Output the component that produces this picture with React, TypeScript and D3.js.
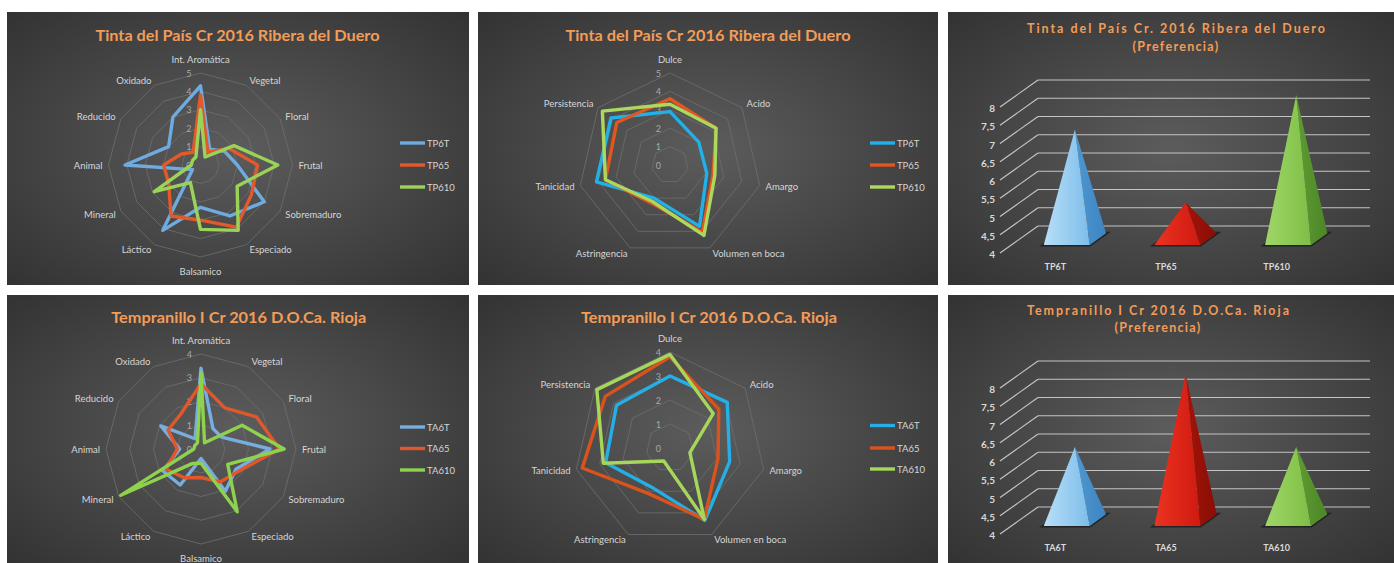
import React from "react";
import * as d3 from "d3";

// ---------- DATA ----------
const aromaAxes = ["Int. Aromática", "Vegetal", "Floral", "Frutal", "Sobremaduro", "Especiado", "Balsamico", "Láctico", "Mineral", "Animal", "Reducido", "Oxidado"];
const mouthAxes = ["Dulce", "Acido", "Amargo", "Volumen en boca", "Astringencia", "Tanicidad", "Persistencia"];

const tpNames = ["TP6T", "TP65", "TP610"];
const taNames = ["TA6T", "TA65", "TA610"];

// Tinta del País – aroma
const tpAroma6T = [4.3, 1.0, 1.5, 2.0, 4.0, 3.2, 2.3, 4.1, 0.5, 4.1, 2.0, 3.0];
const tpAroma65 = [3.8, 0.8, 1.8, 3.1, 3.2, 3.9, 3.0, 3.2, 2.0, 2.0, 1.2, 0.8];
const tpAroma610 = [3.0, 0.5, 2.1, 4.2, 2.3, 4.1, 3.5, 1.1, 2.9, 0.5, 0.5, 0.5];

// Tinta del País – boca
const tpMouth6T = [2.9, 2.0, 2.05, 3.7, 2.0, 4.1, 4.1];
const tpMouth65 = [3.6, 3.2, 2.4, 4.05, 2.3, 3.6, 3.7];
const tpMouth610 = [3.3, 3.2, 2.5, 4.25, 2.2, 3.6, 4.7];

// Tempranillo – aroma
const taAroma6T = [3.4, 1.0, 1.0, 2.9, 1.7, 2.05, 0.4, 1.75, 1.85, 0.9, 1.95, 0.5];
const taAroma65 = [2.75, 2.0, 2.7, 3.3, 1.85, 1.6, 1.2, 1.4, 1.7, 1.0, 1.6, 1.7];
const taAroma610 = [3.2, 0.3, 2.0, 3.5, 1.3, 3.05, 0.6, 0.7, 3.9, 0.3, 0.3, 0.3];

// Tempranillo – boca
const taMouth6T = [3.0, 3.05, 2.55, 3.35, 1.8, 2.75, 2.85];
const taMouth65 = [3.8, 2.6, 2.05, 3.3, 2.1, 3.75, 3.45];
const taMouth610 = [3.9, 2.3, 0.85, 3.3, 0.6, 2.85, 3.9];

// Preferencia
const prefTP = [7.0, 5.0, 7.95];
const prefTA = [6.0, 8.0, 6.0];
const prefTicks = [4, 4.5, 5, 5.5, 6, 6.5, 7, 7.5, 8];
const prefTickLabels = ["4", "4,5", "5", "5,5", "6", "6,5", "7", "7,5", "8"];

const titleTP = "Tinta del País Cr 2016 Ribera del Duero";
const titleTPpref = "Tinta del País Cr. 2016 Ribera del Duero";
const titleTA = "Tempranillo I Cr 2016 D.O.Ca. Rioja";
const titleTApref = "Tempranillo  I Cr 2016 D.O.Ca. Rioja";
const prefSub = "(Preferencia)";

const FONT = "Lato, 'Open Sans', sans-serif";
const TITLE_COLOR = "#F39C58";

// ---------- RADAR ----------
type RadarProps = {
  cx: number; cy: number; R: number; max: number;
  axes: string[]; series: number[][]; names: string[]; colors: string[];
  legendX: number; legendYs: number[];
  title: string; titleX: number; titleY: number; titleW: number;
};

function Radar(p: RadarProps) {
  const n = p.axes.length;
  const r = d3.scaleLinear().domain([0, p.max]).range([0, p.R]);
  const ang = (i: number) => (2 * Math.PI * i) / n;
  const line = d3
    .lineRadial<number>()
    .angle((_, i) => ang(i))
    .radius((d) => r(d))
    .curve(d3.curveLinearClosed);
  const levels = d3.range(1, p.max + 1);
  return (
    <g>
      <text x={p.titleX} y={p.titleY} textAnchor="middle" dominantBaseline="central"
        fontFamily={FONT} fontWeight="bold" fontSize={15} fill={TITLE_COLOR}
        textLength={p.titleW} lengthAdjust="spacingAndGlyphs">{p.title}</text>
      <g transform={`translate(${p.cx},${p.cy})`}>
        {levels.map((l) => (
          <path key={l} d={line(p.axes.map(() => l)) || ""} fill="none" stroke="#6f6f6f" strokeWidth={0.8} />
        ))}
        {d3.range(0, p.max + 1).map((l) => (
          <text key={l} x={-9} y={-r(l)} textAnchor="end" dominantBaseline="central"
            fontFamily={FONT} fontSize={9} fill="#a8a8a8">{l}</text>
        ))}
        {p.series.map((s, k) => (
          <path key={k} d={line(s) || ""} fill="none" stroke={p.colors[k]} strokeWidth={3.4} strokeLinejoin="round" />
        ))}
        {p.axes.map((a, i) => {
          const sx = Math.sin(ang(i));
          const sy = -Math.cos(ang(i));
          const rr = p.R + 6;
          let x = rr * sx;
          let y = rr * sy;
          let anchor = "middle";
          if (sx > 0.15) anchor = "start";
          else if (sx < -0.15) anchor = "end";
          else y += sy * 8;
          return (
            <text key={a} x={x} y={y} textAnchor={anchor} dominantBaseline="central"
              fontFamily={FONT} fontSize={9.5} fill="#d6d6d6">{a}</text>
          );
        })}
      </g>
      {p.names.map((nm, k) => (
        <g key={nm}>
          <line x1={p.legendX} x2={p.legendX + 25} y1={p.legendYs[k]} y2={p.legendYs[k]} stroke={p.colors[k]} strokeWidth={3.4} />
          <text x={p.legendX + 27} y={p.legendYs[k]} dominantBaseline="central" fontFamily={FONT} fontSize={9.5} fill="#d6d6d6">{nm}</text>
        </g>
      ))}
    </g>
  );
}

// ---------- PYRAMID ----------
type PyrProps = {
  dy: number; cats: string[]; values: number[];
  title1: string; title2: string; titleX: number; titleY1: number; titleY2: number; titleW: number;
};
const pyrFills = ["blue", "red", "green"];

function Pyramids(p: PyrProps) {
  const x0 = 1000, x1 = 1332;
  const depthX = 38, depthY = -27;
  const y = d3.scaleLinear().domain([4, 8]).range([253 + p.dy, 107 + p.dy]);
  const band = d3.scaleBand<string>().domain(p.cats).range([x0, x1]);
  const proj = (x: number, v: number, f: number): [number, number] => [x + depthX * f, y(v) + depthY * f];
  const d1 = 0.3, d2 = 0.73, hw = 23;
  const pts = (a: [number, number][]) => a.map((q) => q.join(",")).join(" ");
  return (
    <g>
      <text x={p.titleX} y={p.titleY1} textAnchor="middle" dominantBaseline="central" fontFamily={FONT}
        fontWeight="bold" fontSize={12.5} fill={TITLE_COLOR} textLength={p.titleW} lengthAdjust="spacing">{p.title1}</text>
      <text x={p.titleX} y={p.titleY2} textAnchor="middle" dominantBaseline="central" fontFamily={FONT}
        fontWeight="bold" fontSize={12.5} fill={TITLE_COLOR} letterSpacing={1.3}>{p.title2}</text>
      {prefTicks.map((t, i) => {
        const [fx, fy] = proj(x0, t, 0);
        const [bx, by] = proj(x0, t, 1);
        const [ex] = proj(x1, t, 1);
        return (
          <g key={t}>
            <line x1={fx} y1={fy} x2={bx} y2={by} stroke="#c4c4c4" strokeWidth={1.2} />
            <line x1={bx} y1={by} x2={ex} y2={by} stroke="#c4c4c4" strokeWidth={1.2} />
            <text x={995} y={fy + 1} textAnchor="end" dominantBaseline="central" fontFamily={FONT}
              fontWeight="bold" fontSize={10} fill="#d9d9d9">{prefTickLabels[i]}</text>
          </g>
        );
      })}
      {p.cats.map((c, i) => {
        const cx = (band(c) as number) + band.bandwidth() / 2;
        const v = p.values[i];
        const FL = proj(cx - hw, 4, d1);
        const FR = proj(cx + hw, 4, d1);
        const BR = proj(cx + hw, 4, d2);
        const BL = proj(cx - hw, 4, d2);
        const A = proj(cx, v, (d1 + d2) / 2);
        const key = pyrFills[i % 3];
        return (
          <g key={c}>
            <polygon points={pts([FL, FR, BR, BL])} fill="#1c1c1c" stroke="#1c1c1c" strokeWidth={3} opacity={0.8} />
            <polygon points={pts([FR, BR, A])} fill={`url(#side-${key})`} />
            <polygon points={pts([FL, FR, A])} fill={`url(#front-${key})`} />
            <text x={cx} y={266.5 + p.dy} textAnchor="middle" dominantBaseline="central" fontFamily={FONT}
              fontWeight="bold" fontSize={9} fill="#d9d9d9">{c}</text>
          </g>
        );
      })}
    </g>
  );
}

// ---------- APP ----------
export default function App() {
  const panels = [
    { x: 7, y: 12, w: 462, h: 273 },
    { x: 478, y: 12, w: 460, h: 273 },
    { x: 948, y: 12, w: 446, h: 273 },
    { x: 7, y: 295, w: 462, h: 268 },
    { x: 478, y: 295, w: 460, h: 268 },
    { x: 948, y: 295, w: 446, h: 268 },
  ];
  const c1 = ["#6FAAE0", "#E2592A", "#9BD35A"];
  const c2 = ["#22B0E8", "#E0571F", "#ACD85E"];
  const c4 = ["#78ADE0", "#E0582A", "#8ED24E"];
  const c5 = ["#26AEE6", "#DA531D", "#A6D65A"];
  return (
    <svg width={1394} height={563} style={{ position: "absolute", left: 0, top: 0, background: "#fff" }}>
      <defs>
        <radialGradient id="bg" cx="50%" cy="50%" r="70%">
          <stop offset="0%" stopColor="#5c5c5c" />
          <stop offset="100%" stopColor="#333333" />
        </radialGradient>
        <linearGradient id="front-blue" x1="0" x2="1" y1="0" y2="0">
          <stop offset="0%" stopColor="#B9DFF8" />
          <stop offset="100%" stopColor="#7CBDEA" />
        </linearGradient>
        <linearGradient id="side-blue" x1="0" x2="1" y1="0" y2="0">
          <stop offset="0%" stopColor="#4D98D2" />
          <stop offset="100%" stopColor="#3E84C0" />
        </linearGradient>
        <linearGradient id="front-red" x1="0" x2="1" y1="0" y2="0">
          <stop offset="0%" stopColor="#EC3322" />
          <stop offset="100%" stopColor="#CF1A10" />
        </linearGradient>
        <linearGradient id="side-red" x1="0" x2="1" y1="0" y2="0">
          <stop offset="0%" stopColor="#A51309" />
          <stop offset="100%" stopColor="#880E06" />
        </linearGradient>
        <linearGradient id="front-green" x1="0" x2="1" y1="0" y2="0">
          <stop offset="0%" stopColor="#A0D768" />
          <stop offset="100%" stopColor="#7DBE45" />
        </linearGradient>
        <linearGradient id="side-green" x1="0" x2="1" y1="0" y2="0">
          <stop offset="0%" stopColor="#5E9C32" />
          <stop offset="100%" stopColor="#4C8627" />
        </linearGradient>
      </defs>
      {panels.map((b, i) => (
        <rect key={i} x={b.x} y={b.y} width={b.w} height={b.h} fill="url(#bg)" />
      ))}
      <Radar cx={200.5} cy={165} R={92} max={5} axes={aromaAxes}
        series={[tpAroma6T, tpAroma65, tpAroma610]} names={tpNames} colors={c1}
        legendX={400} legendYs={[143, 165, 187]}
        title={titleTP} titleX={237.5} titleY={35} titleW={284} />
      <Radar cx={670} cy={165} R={92} max={5} axes={mouthAxes}
        series={[tpMouth6T, tpMouth65, tpMouth610]} names={tpNames} colors={c2}
        legendX={870} legendYs={[143, 165, 187]}
        title={titleTP} titleX={708} titleY={35} titleW={285} />
      <Radar cx={201} cy={449} R={95} max={4} axes={aromaAxes}
        series={[taAroma6T, taAroma65, taAroma610]} names={taNames} colors={c4}
        legendX={400} legendYs={[427, 448.5, 470]}
        title={titleTA} titleX={238.8} titleY={317} titleW={255} />
      <Radar cx={670} cy={448} R={96} max={4} axes={mouthAxes}
        series={[taMouth6T, taMouth65, taMouth610]} names={taNames} colors={c5}
        legendX={870} legendYs={[425.5, 448, 469]}
        title={titleTA} titleX={709} titleY={317} titleW={256} />
      <Pyramids dy={0} cats={tpNames} values={prefTP}
        title1={titleTPpref} title2={prefSub} titleX={1176} titleY1={28.5} titleY2={46.5} titleW={298} />
      <Pyramids dy={281} cats={taNames} values={prefTA}
        title1={titleTApref} title2={prefSub} titleX={1158} titleY1={310.5} titleY2={327} titleW={262} />
    </svg>
  );
}
